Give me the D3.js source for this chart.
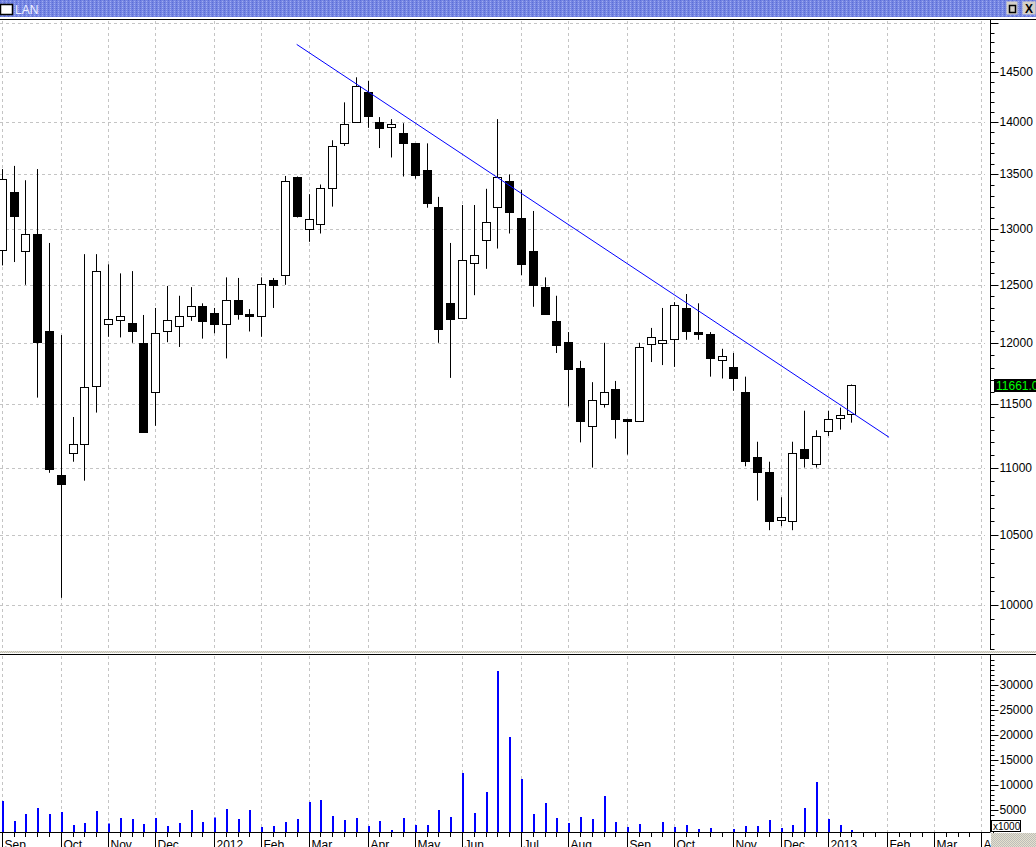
<!DOCTYPE html>
<html><head><meta charset="utf-8">
<script src="https://cdn.jsdelivr.net/npm/d3@7"></script>
<style>html,body{margin:0;padding:0;background:#fff;overflow:hidden}svg{display:block}
text{font-family:"Liberation Sans",Arial,sans-serif}</style>
</head><body>
<svg id="c" width="1036" height="847"></svg>
<script>
// ---------- data ----------
const title = "LAN";
const lastPrice = 11661;
const lastLabel = "11661.00";
const volUnitLabel = "x1000";
const monthLabels = ["Sep","Oct","Nov","Dec","2012","Feb","Mar","Apr","May","Jun","Jul","Aug","Sep","Oct","Nov","Dec","2013","Feb","Mar","Apr"];
const monthWeek   = [0,5,9,13,18,22,26,31,35,39,44,48,53,57,62,66,70,75,79,83];
const opens  = [12810,13335,12795,12950,12105,10950,11115,11185,11645,12165,12195,12175,12005,11600,12100,12145,12235,12315,12260,12160,12365,12250,12235,12540,12590,13475,12995,13040,13370,13800,14000,14295,14005,13950,13895,13795,13540,13200,12345,12210,12695,12895,13195,13440,13095,12800,12480,12190,12010,11795,11330,11500,11625,11385,11365,11995,12000,12035,12300,12095,12080,11865,11805,11600,11090,10970,10610,10600,11150,11030,11290,11395,11425];
const highs  = [13550,13580,13445,13550,12870,12070,11400,12770,12770,12680,12600,12620,12240,12300,12490,12405,12480,12340,12300,12565,12560,12290,12565,12560,13485,13480,13315,13405,13825,14195,14445,14410,14050,14030,13990,13795,13795,13290,12870,13215,13215,13365,14030,13500,13355,13160,12565,12405,12095,11855,11680,12005,11690,11385,12005,12130,12300,12350,12420,12340,12095,11955,11920,11725,11205,11050,10780,11205,11450,11295,11450,11475,11661];
const lows   = [12670,12700,12500,11555,10965,10050,11050,10905,11435,12055,12050,12005,11275,11330,12010,11970,12190,12040,12085,11875,12200,12100,12055,12300,12500,13100,12880,12955,13200,13770,14000,13945,13750,13660,13480,13460,13190,12005,11715,12210,12410,12640,12820,12955,12585,12310,12245,11920,11485,11200,11005,11475,11230,11105,11365,11845,11820,11805,12030,12030,11725,11710,11610,11015,10755,10535,10565,10535,11005,11005,11250,11300,11355];
const closes = [13455,13110,12955,12015,10995,10880,11185,11640,12625,12205,12235,12100,11285,12085,12195,12235,12320,12190,12165,12365,12245,12235,12505,12495,13435,13110,13085,13370,13765,13985,14355,14065,13945,13980,13800,13495,13235,12125,12205,12720,12760,13060,13480,13155,12680,12495,12245,11990,11790,11365,11535,11600,11385,11370,11970,12055,12030,12325,12100,12080,11875,11895,11710,11055,10975,10605,10630,11120,11075,11250,11385,11415,11661];
const volumes = [6800,2800,4200,5400,4200,4600,2000,2400,4800,2300,3400,3200,2200,3400,1800,2400,5000,2600,3500,5200,3200,5000,1600,1800,2600,3200,6600,7000,3800,3000,3400,1800,2800,1000,3400,2000,2000,5000,3600,12400,4400,8600,32800,19600,11200,4200,6400,3400,2400,3600,3200,7800,2600,1600,2200,300,2600,1600,2000,1200,1400,300,1200,1800,1800,3000,1400,2000,5400,10600,3200,2000,1000];
const priceTicks = [10000,10500,11000,11500,12000,12500,13000,13500,14000,14500,15000];
const volTicks = [5000,10000,15000,20000,25000,30000];
const trendWeeks = [25, 75.2];
const trendPrices = [14780, 11240];

// ---------- setup ----------
const W = 1036, H = 847;
const svg = d3.select("#c");
const defs = svg.append("defs");
const tb = defs.append("pattern").attr("id","tb").attr("width",4).attr("height",2).attr("patternUnits","userSpaceOnUse");
tb.append("rect").attr("width",4).attr("height",2).attr("fill","#7686e2");
tb.append("rect").attr("x",0).attr("y",0).attr("width",1).attr("height",1).attr("fill","#5a6cd8");
tb.append("rect").attr("x",2).attr("y",1).attr("width",1).attr("height",1).attr("fill","#9eacf2");
const gp = defs.append("pattern").attr("id","gp").attr("width",2).attr("height",2).attr("patternUnits","userSpaceOnUse");
gp.append("rect").attr("width",2).attr("height",2).attr("fill","#e6e2cc");
gp.append("rect").attr("width",1).attr("height",1).attr("fill","#bcbcbc");
gp.append("rect").attr("x",1).attr("y",1).attr("width",1).attr("height",1).attr("fill","#bcbcbc");
defs.append("clipPath").attr("id","cp").append("rect").attr("x",0).attr("y",20).attr("width",990).attr("height",630);
defs.append("clipPath").attr("id","cv").append("rect").attr("x",0).attr("y",655).attr("width",990).attr("height",177);

const AX = 990.5;
const x = d3.scaleLinear().domain([0, 83]).range([1.7, 981.1]);
const y = d3.scaleLog().domain([10000, 15000]).range([605, 23.2]);
const yv = d3.scaleLinear().domain([0, 30000]).range([835, 685]);
const px = i => Math.round(x(i));

// ---------- title bar ----------
svg.append("rect").attr("x",0).attr("y",0).attr("width",W).attr("height",17).attr("fill","url(#tb)");
svg.append("rect").attr("x",0.5).attr("y",4.5).attr("width",12).attr("height",10).attr("fill","#fff").attr("stroke","#000").attr("stroke-width",1.5);
svg.append("text").attr("x",15).attr("y",13.5).attr("font-size",12).attr("fill","#eef0ff").text(title);
svg.append("rect").attr("x",1006.5).attr("y",1.5).attr("width",11).attr("height",13).attr("fill","#d4d0c8");
svg.append("rect").attr("x",1009.5).attr("y",5.5).attr("width",6).attr("height",7).attr("fill","none").attr("stroke","#000").attr("stroke-width",1.5);
svg.append("rect").attr("x",1022.5).attr("y",1.5).attr("width",13).attr("height",13).attr("fill","#d4d0c8");
svg.append("text").attr("x",1029).attr("y",12.5).attr("text-anchor","middle").attr("font-size",12).attr("font-weight","bold").attr("fill","#000").text("X");
svg.append("line").attr("x1",0).attr("x2",W).attr("y1",19.5).attr("y2",19.5).attr("stroke","#000");

// ---------- grid ----------
const grid = svg.append("g").attr("stroke","#c4c4c4").attr("stroke-dasharray","3,3");
grid.selectAll("line.h").data(priceTicks).join("line")
  .attr("x1",0).attr("x2",985).attr("y1",d=>Math.round(y(d))+0.5).attr("y2",d=>Math.round(y(d))+0.5);
grid.selectAll("line.vp").data(monthWeek).join("line")
  .attr("x1",d=>px(d)+0.5).attr("x2",d=>px(d)+0.5).attr("y1",21).attr("y2",651);
grid.selectAll("line.vv").data(monthWeek).enter().append("line")
  .attr("x1",d=>px(d)+0.5).attr("x2",d=>px(d)+0.5).attr("y1",656).attr("y2",832);

// ---------- candles ----------
const data = opens.map((o,i)=>({i, o, h:highs[i], l:lows[i], c:closes[i], v:volumes[i]}));
const cg = svg.append("g").attr("clip-path","url(#cp)");
cg.selectAll("line.w").data(data).join("line")
  .attr("x1",d=>px(d.i)+0.5).attr("x2",d=>px(d.i)+0.5)
  .attr("y1",d=>y(d.h)).attr("y2",d=>y(d.l)).attr("stroke","#000");
cg.selectAll("rect.b").data(data).join("rect")
  .attr("x",d=>px(d.i)-3.5).attr("width",8)
  .attr("y",d=>Math.round(y(Math.max(d.o,d.c)))+0.5)
  .attr("height",d=>Math.max(1, Math.round(y(Math.min(d.o,d.c))) - Math.round(y(Math.max(d.o,d.c)))))
  .attr("fill",d=>d.c>=d.o?"#fff":"#000").attr("stroke","#000");

// trend line
cg.append("path").datum(trendWeeks.map((w,k)=>[w,trendPrices[k]]))
  .attr("d", d3.line().x(d=>x(d[0])).y(d=>y(d[1])))
  .attr("stroke","#0000ff").attr("stroke-width",1).attr("fill","none");

// ---------- volume ----------
const vg = svg.append("g").attr("clip-path","url(#cv)");
vg.selectAll("rect").data(data).join("rect")
  .attr("x",d=>px(d.i)).attr("width",2)
  .attr("y",d=>yv(d.v)).attr("height",d=>yv(0)-yv(d.v)).attr("fill","#0000ff");

// ---------- separators ----------
svg.append("rect").attr("x",0).attr("y",651).attr("width",W).attr("height",2).attr("fill","url(#gp)");
svg.append("line").attr("x1",0).attr("x2",W).attr("y1",654.5).attr("y2",654.5).attr("stroke","#000");

// ---------- price axis ----------
const minorP = d3.range(9700, 15001, 100);
const pa = svg.append("g").attr("transform",`translate(${AX},0)`);
pa.call(d3.axisRight(y).tickValues(minorP).tickSize(4).tickFormat(""));
const pa2 = svg.append("g").attr("transform",`translate(${AX},0)`);
pa2.call(d3.axisRight(y).tickValues(priceTicks).tickSize(8).tickPadding(1).tickFormat(d=>d===15000?"":d3.format("d")(d)));
[pa,pa2].forEach(g=>{g.select(".domain").remove(); g.selectAll("line").attr("stroke","#000");});
pa.selectAll(".tick").attr("transform",d=>`translate(0,${Math.round(y(d))+0.5})`);
pa2.selectAll(".tick").attr("transform",d=>`translate(0,${Math.round(y(d))+0.5})`);
pa2.selectAll("text").attr("font-size",12).attr("font-family","Liberation Sans, Arial").attr("fill","#000");
svg.append("line").attr("x1",AX).attr("x2",AX).attr("y1",20).attr("y2",650).attr("stroke","#000");

// last price label
svg.append("rect").attr("x",994).attr("y",Math.round(y(lastPrice))-6).attr("width",42).attr("height",13).attr("fill","#000");
svg.append("text").attr("x",996).attr("y",Math.round(y(lastPrice))+4.5).attr("font-size",12).attr("fill","#00ff00").text(lastLabel);

// ---------- volume axis ----------
const minorV = d3.range(1000, 35001, 1000);
const va = svg.append("g").attr("transform",`translate(${AX},0)`);
va.call(d3.axisRight(yv).tickValues(minorV).tickSize(4).tickFormat(""));
const va2 = svg.append("g").attr("transform",`translate(${AX},0)`);
va2.call(d3.axisRight(yv).tickValues(volTicks).tickSize(8).tickPadding(1).tickFormat(d3.format("d")));
[va,va2].forEach(g=>{g.select(".domain").remove(); g.selectAll("line").attr("stroke","#000");});
va.selectAll(".tick").attr("transform",d=>`translate(0,${Math.round(yv(d))+0.5})`);
va2.selectAll(".tick").attr("transform",d=>`translate(0,${Math.round(yv(d))+0.5})`);
va2.selectAll("text").attr("font-size",12).attr("font-family","Liberation Sans, Arial").attr("fill","#000");
svg.append("line").attr("x1",AX).attr("x2",AX).attr("y1",655).attr("y2",832).attr("stroke","#000");

// ---------- bottom axis ----------
const ba = svg.append("g").attr("transform","translate(0,832)");
ba.call(d3.axisBottom(x).tickValues(d3.range(0,85)).tickSize(5).tickFormat(""));
const ba2 = svg.append("g").attr("transform","translate(0,832)");
ba2.call(d3.axisBottom(x).tickValues(monthWeek).tickSize(16).tickFormat((d,k)=>monthLabels[k]));
[ba,ba2].forEach(g=>{g.select(".domain").remove(); g.selectAll("line").attr("stroke","#000");});
ba.selectAll(".tick").attr("transform",d=>`translate(${px(d)+0.5},0)`);
ba2.selectAll(".tick").attr("transform",d=>`translate(${px(d)+0.5},0)`);
ba2.selectAll("text").attr("text-anchor","start").attr("x",2).attr("y",8).attr("font-size",12)
  .attr("font-family","Liberation Sans, Arial").attr("fill","#000");
svg.append("line").attr("x1",0).attr("x2",AX).attr("y1",832.5).attr("y2",832.5).attr("stroke","#000");

// corner texture + x1000 box
svg.append("rect").attr("x",991).attr("y",833).attr("width",45).attr("height",14).attr("fill","url(#gp)");
svg.append("rect").attr("x",991.5).attr("y",820.5).attr("width",29).attr("height",11).attr("fill","#fff").attr("stroke","#000");
svg.append("text").attr("x",993).attr("y",830).attr("font-size",10).attr("fill","#000").text(volUnitLabel);
</script>
</body></html>
